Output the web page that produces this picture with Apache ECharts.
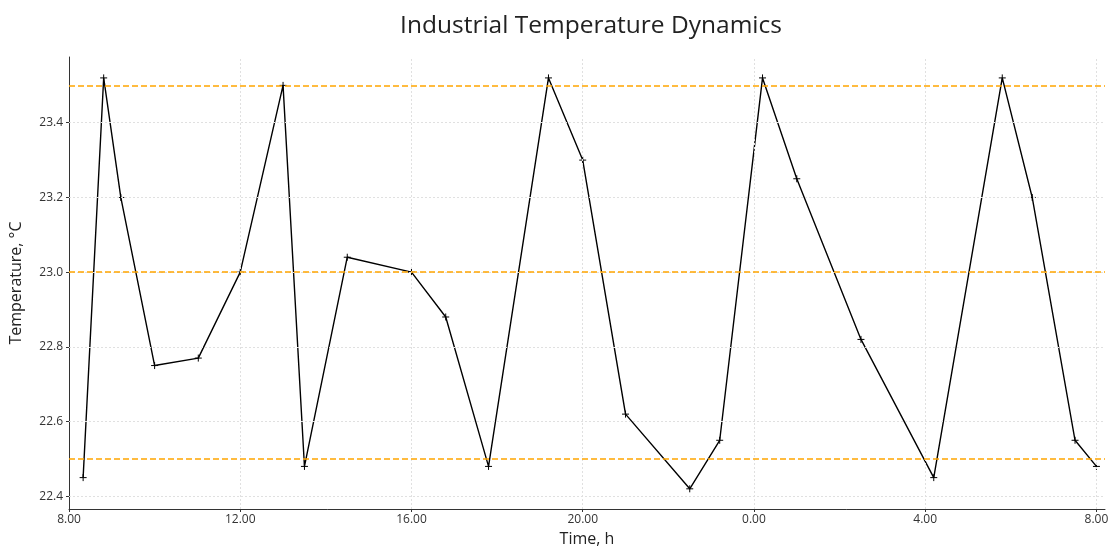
<!DOCTYPE html>
<html lang="en">
<head>
  <meta charset="UTF-8" />
  <title>Industrial Temperature Dynamics</title>
  <script src="https://cdn.jsdelivr.net/npm/echarts@6.0.0/dist/echarts.min.js"></script>
  <style>
    html, body { margin: 0; padding: 0; background: #fff; }
  </style>
</head>
<body>
  <div id="main" style="width:1112px; height:552px;"></div>
  <script type="text/javascript">
    // time in hours since midnight of day 1 (values past 24 are next day)
    const hours = [8.33, 8.81, 9.21, 10.0, 11.02, 12.0, 13.0, 13.5, 14.5, 16.0, 16.8, 17.8,
                   19.2, 20.0, 21.0, 22.5, 23.2, 24.2, 25.0, 26.5, 28.2, 29.8, 30.5, 31.5, 32.0];
    const temps = [22.45, 23.52, 23.2, 22.75, 22.77, 23.0, 23.5, 22.48, 23.04, 23.0, 22.88, 22.48,
                   23.52, 23.3, 22.62, 22.42, 22.55, 23.52, 23.25, 22.82, 22.45, 23.52, 23.2, 22.55, 22.48];
    // dashed reference levels
    const thresholds = [22.5, 23.0, 23.5];
    // grid positions
    const xTicks = [12, 16, 20, 24, 28, 32];
    const yTicks = [22.4, 22.6, 22.8, 23.0, 23.2, 23.4];

    const font = 'Open Sans';
    const chart = echarts.init(document.getElementById('main'));

    chart.setOption({
      animation: false,
      title: {
        text: 'Industrial Temperature Dynamics',
        left: 586,
        textAlign: 'center',
        top: 9,
        textStyle: { fontFamily: font, fontSize: 24.5, fontWeight: 'normal', color: '#222' }
      },
      grid: { left: 67, right: 7, top: 57, bottom: 39 },
      xAxis: {
        type: 'value',
        min: 8,
        max: 32.2,
        interval: 4,
        name: 'Time, h',
        nameLocation: 'middle',
        nameGap: 22,
        nameTextStyle: { fontFamily: font, fontSize: 16, color: '#222' },
        axisLine: { lineStyle: { color: '#333', width: 1 } },
        axisTick: { show: true, length: 3, lineStyle: { color: '#333' } },
        splitLine: { show: false },
        axisLabel: {
          showMaxLabel: false,
          fontFamily: font, fontSize: 12, color: '#333', margin: 5,
          formatter: v => (v % 24).toFixed(2)
        }
      },
      yAxis: {
        type: 'value',
        min: 22.366,
        max: 23.576,
        name: 'Temperature, °C',
        nameLocation: 'middle',
        nameGap: 45,
        nameTextStyle: { fontFamily: font, fontSize: 16, color: '#222' },
        axisLine: { show: true, lineStyle: { color: '#333', width: 1 } },
        axisTick: { show: true, length: 3, lineStyle: { color: '#333' } },
        splitLine: { show: false },
        axisLabel: {
          showMinLabel: false, showMaxLabel: false,
          fontFamily: font, fontSize: 12, color: '#333', margin: 6,
          formatter: v => v.toFixed(1)
        }
      },
      series: [
        {
          // light dotted grid
          type: 'line',
          data: [],
          silent: true,
          z: 1,
          markLine: {
            symbol: 'none',
            silent: true,
            label: { show: false },
            lineStyle: { color: '#e0e0e0', type: [2, 2], width: 1 },
            data: xTicks.map(v => ({ xAxis: v })).concat(yTicks.map(v => ({ yAxis: v })))
          }
        },
        {
          // orange reference levels
          type: 'line',
          data: [],
          silent: true,
          z: 2,
          markLine: {
            symbol: 'none',
            silent: true,
            label: { show: false },
            lineStyle: { color: '#FFA500', type: [6, 3], width: 1.6 },
            data: thresholds.map(v => ({ yAxis: v }))
          }
        },
        {
          name: 'Temperature',
          type: 'line',
          z: 3,
          data: hours.map((h, i) => [h, temps[i]]),
          symbol: 'path://M-5 0 H5 M0 -5 V5',
          symbolSize: 7,
          showAllSymbol: true,
          lineStyle: { color: '#000', width: 1.4 },
          itemStyle: { color: '#000', borderColor: '#000', borderWidth: 1 }
        }
      ]
    });
  </script>
</body>
</html>
